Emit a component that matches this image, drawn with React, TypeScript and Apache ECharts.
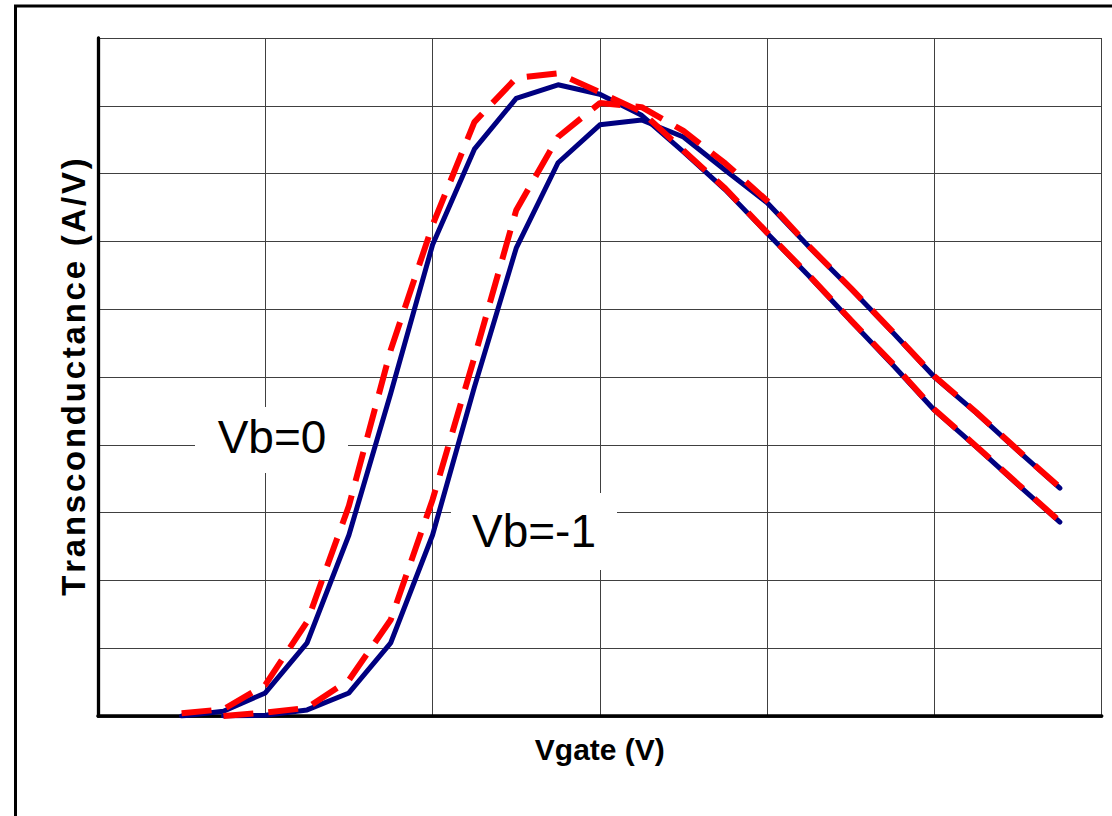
import React, { useEffect, useRef } from "react";
import * as echarts from "echarts";

// Vgate positions (grid units along x axis)
const vgateA = [0.5, 0.75, 1.0, 1.25, 1.5, 1.75, 2.0, 2.25, 2.5, 2.75, 3.0, 3.25, 3.5, 3.75, 4.0, 4.25, 4.5, 4.75, 5.0, 5.25, 5.5, 5.75];
const vgateB = [0.75, 1.0, 1.25, 1.5, 1.75, 2.0, 2.25, 2.5, 2.75, 3.0, 3.25, 3.5, 3.75, 4.0, 4.25, 4.5, 4.75, 5.0, 5.25, 5.5, 5.75];

// Vb = 0, solid (navy)
const gmVb0Solid = [0, 0.07, 0.34, 1.08, 2.67, 4.76, 6.95, 8.36, 9.11, 9.31, 9.17, 8.86, 8.32, 7.76, 7.12, 6.49, 5.83, 5.18, 4.51, 3.97, 3.41, 2.86];
// Vb = 0, dashed (red)
const gmVb0Dashed = [0.04, 0.1, 0.46, 1.39, 3.1, 5.4, 7.24, 8.76, 9.41, 9.48, 9.2, 8.91, 8.34, 7.78, 7.13, 6.5, 5.84, 5.2, 4.52, 3.98, 3.42, 2.87];
// Vb = -1, solid (navy)
const gmVb1Solid = [0, 0.01, 0.09, 0.34, 1.08, 2.67, 4.85, 6.9, 8.16, 8.72, 8.79, 8.54, 8.05, 7.57, 6.92, 6.3, 5.66, 5.0, 4.47, 3.91, 3.36];
// Vb = -1, dashed (red)
const gmVb1Dashed = [0, 0.05, 0.12, 0.53, 1.42, 3.19, 5.29, 7.46, 8.54, 9.04, 8.98, 8.63, 8.15, 7.6, 6.93, 6.31, 5.67, 5.01, 4.48, 3.92, 3.37];

const xTitle = "Vgate (V)";
const yTitle = "Transconductance (A/V)";
const labelVb0 = "Vb=0";
const labelVb1 = "Vb=-1";

const pair = (xs: number[], ys: number[]) => xs.map((x, i) => [x, ys[i]]);
const spaced = (s: string) => s.split("").join("\u200A");

export default function App() {
  const ref = useRef<HTMLDivElement>(null);
  useEffect(() => {
    if (!ref.current) return;
    const chart = echarts.init(ref.current, null, { renderer: "svg" });
    const font = "Liberation Sans, Arial, sans-serif";
    const hidden = { show: false };
    chart.setOption({
      animation: false,
      backgroundColor: "#ffffff",
      grid: { left: 98, top: 38, right: 10.3, bottom: 100, containLabel: false },
      xAxis: [
        {
          type: "value", min: 0, max: 6, interval: 1, position: "bottom",
          axisLine: { show: true, lineStyle: { color: "#000", width: 3.5 } },
          axisTick: hidden, axisLabel: hidden,
          splitLine: { show: true, lineStyle: { color: "#404040", width: 1 } },
          name: xTitle, nameLocation: "middle", nameGap: 18,
          nameTextStyle: { fontFamily: font, fontWeight: "bold", fontSize: 30, color: "#000" },
        },
        {
          type: "value", min: 0, max: 6, interval: 1, position: "top",
          axisLine: { show: true, lineStyle: { color: "#000", width: 2.5 } },
          axisTick: hidden, axisLabel: hidden, splitLine: hidden,
        },
      ],
      yAxis: [
        {
          type: "value", min: 0, max: 10, interval: 1, position: "left",
          axisLine: { show: true, lineStyle: { color: "#000", width: 2.5 } },
          axisTick: hidden, axisLabel: hidden,
          splitLine: { show: true, lineStyle: { color: "#404040", width: 1 } },
          name: spaced(yTitle), nameLocation: "middle", nameGap: 8,
          nameTextStyle: { fontFamily: font, fontWeight: "bold", fontSize: 33, color: "#000" },
        },
        {
          type: "value", min: 0, max: 10, interval: 1, position: "right",
          axisLine: { show: true, lineStyle: { color: "#000", width: 3.3 } },
          axisTick: hidden, axisLabel: hidden, splitLine: hidden,
        },
      ],
      graphic: [
        { type: "rect", z: 1, shape: { x: 15.5, y: 6, width: 1300, height: 1000 }, style: { fill: "none", stroke: "#000", lineWidth: 3 } },
        { type: "rect", z: 1, shape: { x: 195, y: 407, width: 153, height: 66 }, style: { fill: "#fff" } },
        { type: "rect", z: 1, shape: { x: 451, y: 493, width: 166, height: 77 }, style: { fill: "#fff" } },
        { type: "text", z: 1, x: 272, y: 437, style: { text: labelVb0, font: `46px ${font}`, fill: "#000", textAlign: "center", textVerticalAlign: "middle" } },
        { type: "text", z: 1, x: 534, y: 531, style: { text: labelVb1, font: `46px ${font}`, fill: "#000", textAlign: "center", textVerticalAlign: "middle" } },
      ],
      series: [
        { name: "Vb=0", type: "line", data: pair(vgateA, gmVb0Solid), symbol: "none", z: 3, lineStyle: { color: "#000080", width: 5, cap: "round", join: "round" } },
        { name: "Vb=-1", type: "line", data: pair(vgateB, gmVb1Solid), symbol: "none", z: 3, lineStyle: { color: "#000080", width: 5, cap: "round", join: "round" } },
        { name: "Vb=0 dashed", type: "line", data: pair(vgateA, gmVb0Dashed), symbol: "none", z: 4, lineStyle: { color: "#ff0000", width: 6, type: [30, 15] } },
        { name: "Vb=-1 dashed", type: "line", data: pair(vgateB, gmVb1Dashed), symbol: "none", z: 4, lineStyle: { color: "#ff0000", width: 6, type: [30, 15] } },
      ],
    });
    return () => chart.dispose();
  }, []);
  return <div ref={ref} style={{ position: "fixed", left: 0, top: 0, width: 1112, height: 816, background: "#fff" }} />;
}
